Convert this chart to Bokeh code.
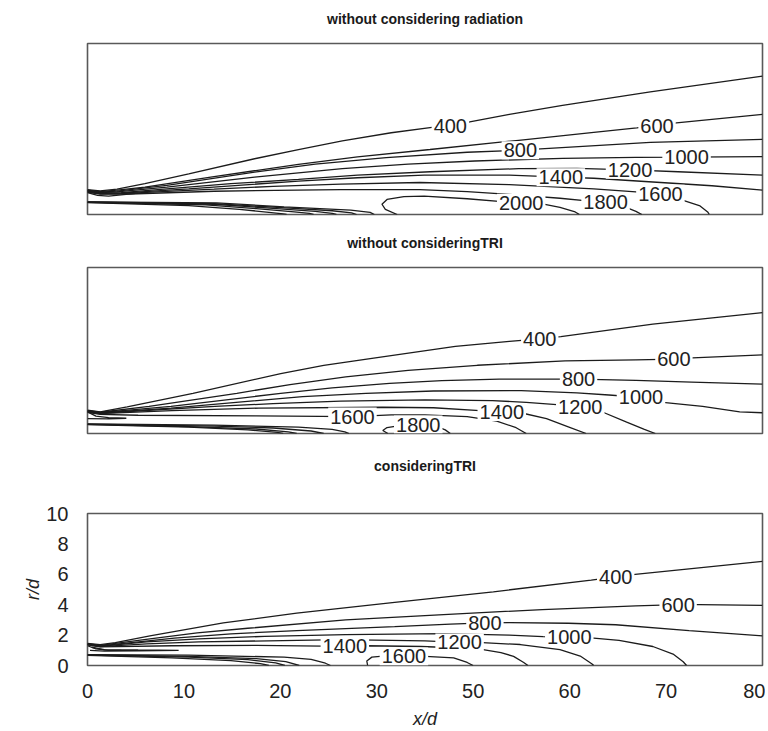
from bokeh.plotting import figure
from bokeh.layouts import column
from bokeh.models import Range1d, FixedTicker, Title
from bokeh.embed import file_html
from bokeh.resources import INLINE
from bokeh.core.properties import value

# ---------------- data (x/d, r/d) ----------------
X_TICK_LABELS = ["0", "10", "20", "30", "50", "60", "70", "80"]
Y_TICKS = [0, 2, 4, 6, 8, 10]

TITLES = ["without considering radiation", "without consideringTRI", "consideringTRI"]

# Panel 1: without considering radiation
RAD_400 = [(0, 1.45), (1.5, 1.38), (3.5, 1.48), (6.8, 1.8), (12, 2.38), (19.8, 3.26), (25, 3.8), (30.2, 4.3), (36, 4.78), (40.6, 5.08), (43, 5.22), (45.3, 5.42), (50, 5.85), (56.3, 6.38), (66.7, 7.17), (80, 8.09)]
RAD_600 = [(0, 1.43), (1.5, 1.34), (3.5, 1.42), (6.8, 1.6), (14.6, 2.19), (25, 2.93), (32, 3.37), (40.6, 3.8), (51.1, 4.34), (60, 4.8), (65.1, 5.06), (67.5, 5.2), (69.8, 5.36), (80, 5.86)]
RAD_800 = [(0, 1.41), (1.5, 1.31), (3.5, 1.37), (9.4, 1.7), (19.8, 2.48), (27, 2.95), (35.4, 3.33), (45, 3.64), (51.3, 3.76), (53.7, 3.84), (66.7, 4.22), (80, 4.39)]
RAD_1000 = [(0, 1.39), (1.5, 1.28), (3.5, 1.32), (9.4, 1.6), (19.8, 2.19), (30.2, 2.68), (38, 2.95), (45.9, 3.13), (56.3, 3.28), (65, 3.34), (71, 3.35), (80, 3.38)]
RAD_1200 = [(0, 1.37), (1.5, 1.25), (4, 1.28), (9.4, 1.5), (17, 1.8), (25, 2.05), (32, 2.3), (40.6, 2.5), (51.1, 2.68), (58, 2.7), (64.3, 2.61), (70, 2.5), (80, 2.3)]
RAD_1400 = [(0, 1.35), (1.5, 1.23), (4, 1.25), (12, 1.5), (25, 1.95), (32, 2.15), (39.9, 2.3), (50, 2.3), (56.1, 2.18), (60, 2.12), (67, 1.9), (74, 1.68), (80, 1.42)]
RAD_1600 = [(0, 1.33), (1.5, 1.21), (4, 1.22), (15, 1.48), (22, 1.65), (30, 1.78), (39.4, 1.87), (50, 1.75), (60, 1.5), (65, 1.32), (67.9, 1.21), (70.6, 0.82), (72.6, 0.5), (73.5, 0.15), (73.7, 0)]
RAD_1800 = [(0, 1.31), (1.5, 1.19), (5, 1.2), (15, 1.36), (30, 1.46), (39.4, 1.46), (45, 1.34), (50, 1.18), (56, 0.95), (59.2, 0.8), (61.4, 0.72), (63.9, 0.4), (65, 0.18), (65.7, 0)]
RAD_2000 = [(36.7, 0), (35.3, 0.3), (34.9, 0.6), (35.5, 0.88), (37.5, 1.05), (39.9, 1.08), (45, 0.92), (49.1, 0.75), (51.4, 0.68), (53.9, 0.62), (56, 0.42), (57.8, 0.15), (58.3, 0)]
RAD_CORE_1 = [(0, 0.7), (12, 0.52), (18, 0.3), (21.5, 0.13), (23.2, 0.04), (23.6, 0)]
RAD_CORE_2 = [(0, 0.71), (14, 0.56), (20, 0.34), (24.5, 0.15), (26.3, 0.06), (26.8, 0)]
RAD_CORE_3 = [(0, 0.72), (15, 0.6), (22, 0.36), (27, 0.18), (29, 0.07), (29.5, 0)]
RAD_CORE_4 = [(0, 0.73), (15, 0.64), (23, 0.4), (29, 0.22), (31.3, 0.1), (31.9, 0)]
RAD_CORE_5 = [(0, 0.74), (15.3, 0.68), (23.3, 0.45), (31.2, 0.26), (33.5, 0.12), (34, 0)]
RAD_LIP = [(0, 1.28), (1.2, 1.12), (2.5, 1.08), (4, 1.15), (6, 1.25)]
RAD_LABELS = ["400", "600", "800", "1000", "1200", "1400", "1600", "1800", "2000"]
RAD_LABEL_X = [43.0, 67.5, 51.3, 71.0, 64.3, 56.1, 67.9, 61.4, 51.4]
RAD_LABEL_R = [5.2, 5.2, 3.76, 3.35, 2.61, 2.18, 1.21, 0.72, 0.68]

# Panel 2: without considering TRI
NOTRI_400 = [(0, 1.4), (1.5, 1.3), (4.7, 1.6), (12.5, 2.42), (22.9, 3.61), (28, 4.1), (33.3, 4.5), (43.6, 5.25), (50, 5.55), (53.6, 5.7), (56.1, 5.83), (67, 6.59), (80, 7.28)]
NOTRI_600 = [(0, 1.38), (1.5, 1.28), (7.3, 1.63), (17.7, 2.42), (24, 2.95), (30.6, 3.41), (38, 3.8), (46.2, 4.11), (56.6, 4.37), (65, 4.44), (69.5, 4.48), (71.7, 4.56), (80, 4.74)]
NOTRI_800 = [(0, 1.36), (1.5, 1.26), (9.9, 1.63), (22.9, 2.42), (29, 2.75), (35.8, 3.02), (42, 3.18), (48.8, 3.27), (58.2, 3.28), (65, 3.2), (71.6, 3.1), (80, 2.98)]
NOTRI_1000 = [(0, 1.34), (1.5, 1.24), (9.9, 1.53), (25.5, 2.22), (33, 2.42), (41, 2.56), (51.4, 2.58), (58, 2.45), (61.8, 2.32), (65.6, 2.18), (68.2, 1.88), (72.9, 1.63), (77.3, 1.3), (80, 1.25)]
NOTRI_1200 = [(0, 1.32), (1.5, 1.22), (15.1, 1.63), (22, 1.8), (30, 1.95), (40, 2.02), (48, 1.98), (52, 1.88), (55.6, 1.74), (58.4, 1.58), (61.1, 1.28), (63.9, 0.68), (66, 0.25), (67.3, 0)]
NOTRI_1400 = [(0, 1.3), (1.5, 1.2), (10, 1.38), (20.3, 1.53), (35, 1.58), (41, 1.55), (46.5, 1.38), (49.1, 1.29), (51.6, 1.22), (54.4, 0.89), (56.9, 0.42), (59.1, 0)]
NOTRI_1600 = [(0, 1.27), (1.5, 1.15), (6, 1.1), (20, 1.06), (31.4, 1.02), (36, 1.12), (40, 1.12), (45, 1.02), (48.5, 0.75), (50.8, 0.35), (52, 0)]
NOTRI_1800 = [(35.6, 0), (35.0, 0.18), (35.5, 0.36), (37, 0.48), (39.2, 0.54), (41.3, 0.45), (42.4, 0.22), (43, 0)]
NOTRI_CORE_1 = [(0, 0.54), (12, 0.38), (19, 0.22), (22.5, 0.07), (23.2, 0)]
NOTRI_CORE_2 = [(0, 0.55), (12, 0.42), (20, 0.27), (23.8, 0.1), (24.8, 0)]
NOTRI_CORE_3 = [(0, 0.56), (15, 0.45), (22, 0.33), (26.5, 0.15), (28, 0)]
NOTRI_CORE_4 = [(0, 0.58), (15, 0.5), (25, 0.38), (29, 0.25), (30.5, 0.1), (31, 0)]
NOTRI_TONGUE = [(0, 1.3), (1, 1.05), (2.5, 0.95), (4.6, 0.92), (2.5, 0.88), (0, 0.9)]
NOTRI_LABELS = ["400", "600", "800", "1000", "1200", "1400", "1600", "1800"]
NOTRI_LABEL_X = [53.6, 69.5, 58.2, 65.6, 58.4, 49.1, 31.4, 39.2]
NOTRI_LABEL_R = [5.7, 4.48, 3.28, 2.18, 1.58, 1.29, 1.02, 0.54]

# Panel 3: considering TRI
TRI_400 = [(0, 1.45), (1.5, 1.38), (3.3, 1.5), (7.4, 1.95), (16.1, 2.8), (24.8, 3.45), (36.4, 4.15), (48.1, 4.85), (59.7, 5.62), (62.6, 5.83), (64.9, 6.0), (71.3, 6.36), (80, 6.85)]
TRI_600 = [(0, 1.43), (1.5, 1.32), (7.4, 1.75), (13, 2.14), (19, 2.45), (30.6, 3.0), (42.2, 3.35), (53.9, 3.68), (65, 3.92), (70, 4.0), (72.5, 4.0), (80, 3.95)]
TRI_800 = [(0, 1.41), (1.5, 1.29), (10.3, 1.8), (17, 2.08), (24.8, 2.3), (36.4, 2.56), (43, 2.72), (47.1, 2.8), (50, 2.82), (57, 2.78), (62.6, 2.68), (71.3, 2.3), (80, 1.95)]
TRI_1000 = [(0, 1.39), (1.5, 1.26), (7, 1.55), (13.2, 1.75), (21, 1.92), (30.6, 2.03), (42.2, 2.1), (50, 2.0), (54, 1.9), (57.1, 1.85), (60, 1.8), (63, 1.65), (67, 1.25), (69.4, 0.75), (70.6, 0.25), (71, 0)]
TRI_1200 = [(0, 1.37), (1.5, 1.24), (7, 1.42), (13.2, 1.55), (30, 1.7), (40, 1.62), (44.1, 1.52), (46.8, 1.5), (51.3, 1.38), (56, 1.05), (58.4, 0.62), (59.8, 0.1), (60, 0)]
TRI_1400 = [(0, 1.35), (1.5, 1.22), (10, 1.3), (20, 1.32), (30.5, 1.26), (33, 1.3), (39.5, 1.25), (46, 1.12), (49, 0.85), (50.5, 0.6), (51.7, 0.2), (52.2, 0)]
TRI_1600 = [(33.2, 0), (33.1, 0.3), (33.7, 0.55), (35, 0.62), (37.5, 0.6), (39.5, 0.62), (43.4, 0.5), (45, 0.2), (45.7, 0)]
TRI_CORE_1 = [(0, 0.66), (10, 0.5), (17, 0.32), (20.5, 0.12), (21.5, 0)]
TRI_CORE_2 = [(0, 0.68), (12, 0.55), (19, 0.38), (22.3, 0.17), (23.4, 0)]
TRI_CORE_3 = [(0, 0.7), (12, 0.6), (20, 0.45), (23.5, 0.25), (25.1, 0)]
TRI_CORE_4 = [(0, 0.72), (12, 0.68), (23.3, 0.55), (26.5, 0.4), (28.2, 0.15), (28.8, 0)]
TRI_TONGUE = [(0.5, 1.2), (2, 1.05), (6, 1.02), (10.8, 1.0), (6, 0.96), (2, 0.95), (0.3, 1.0)]
TRI_LIP = [(0, 1.3), (1, 1.1), (2.5, 1.0), (4, 1.0)]
TRI_LABELS = ["400", "600", "800", "1000", "1200", "1400", "1600"]
TRI_LABEL_X = [62.6, 70.0, 47.1, 57.1, 44.1, 30.5, 37.5]
TRI_LABEL_R = [5.83, 4.0, 2.8, 1.85, 1.52, 1.26, 0.6]

PANEL_LINES = [
    [RAD_400, RAD_600, RAD_800, RAD_1000, RAD_1200, RAD_1400, RAD_1600, RAD_1800, RAD_2000,
     RAD_CORE_1, RAD_CORE_2, RAD_CORE_3, RAD_CORE_4, RAD_CORE_5, RAD_LIP],
    [NOTRI_400, NOTRI_600, NOTRI_800, NOTRI_1000, NOTRI_1200, NOTRI_1400, NOTRI_1600, NOTRI_1800,
     NOTRI_CORE_1, NOTRI_CORE_2, NOTRI_CORE_3, NOTRI_CORE_4, NOTRI_TONGUE],
    [TRI_400, TRI_600, TRI_800, TRI_1000, TRI_1200, TRI_1400, TRI_1600,
     TRI_CORE_1, TRI_CORE_2, TRI_CORE_3, TRI_CORE_4, TRI_TONGUE, TRI_LIP],
]
PANEL_LABELS = [
    (RAD_LABELS, RAD_LABEL_X, RAD_LABEL_R),
    (NOTRI_LABELS, NOTRI_LABEL_X, NOTRI_LABEL_R),
    (TRI_LABELS, TRI_LABEL_X, TRI_LABEL_R),
]

# ---------------- layout ----------------
W = 765
FONT = "Liberation Sans"
HEIGHTS = [222, 219, 290]
TOPS = [43, 45, 72]
BOTTOMS = [8, 8, 65]
SPACER = [14, 14, 37]   # empty space between title and frame


def make_panel(i):
    last = i == 2
    kw = dict(width=W, height=HEIGHTS[i], output_backend="svg", toolbar_location=None,
              x_range=Range1d(0, 80), y_range=Range1d(0, 10),
              min_border_left=87, min_border_right=3,
              min_border_top=TOPS[i], min_border_bottom=BOTTOMS[i], title=None)
    if not last:
        kw.update(x_axis_type=None, y_axis_type=None)
    p = figure(**kw)
    p.outline_line_color = "#595959"
    p.outline_line_width = 1.6
    p.background_fill_color = "white"
    p.border_fill_color = "white"

    # spacer (first panel above the frame), then the title itself
    p.add_layout(Title(text=" ", text_font_size="1px", standoff=SPACER[i]), "above")
    p.add_layout(Title(text=TITLES[i], align="center", text_font=FONT,
                       text_font_size="14px", text_font_style="bold",
                       text_color="#1a1a1a", standoff=0), "above")

    lines = PANEL_LINES[i]
    xs = [[pt[0] for pt in c] for c in lines]
    ys = [[pt[1] for pt in c] for c in lines]
    p.multi_line(xs, ys, line_color="#1c1c1c", line_width=1.3)

    labs, lx, ly = PANEL_LABELS[i]
    p.text(x=lx, y=ly, text=labs, text_align="center", text_baseline="middle",
           text_font=value(FONT), text_font_size="20px", text_color="#222222",
           background_fill_color="white", padding=2)

    if last:
        n = len(X_TICK_LABELS)
        pos = [k * 80 / (n - 1) for k in range(n)]
        p.xaxis.ticker = FixedTicker(ticks=pos)
        p.xaxis.major_label_overrides = {pp: lab for pp, lab in zip(pos, X_TICK_LABELS)}
        p.yaxis.ticker = FixedTicker(ticks=Y_TICKS)
        for ax in (p.xaxis, p.yaxis):
            ax.major_tick_line_color = None
            ax.minor_tick_line_color = None
            ax.axis_line_color = None
            ax.major_label_text_font = FONT
            ax.major_label_text_font_size = "20px"
            ax.major_label_text_color = "#222222"
            ax.axis_label_text_font = FONT
            ax.axis_label_text_font_size = "18px"
            ax.axis_label_text_font_style = "italic"
            ax.axis_label_text_color = "#222222"
        p.xaxis.major_label_standoff = 12
        p.yaxis.major_label_standoff = 13
        p.xaxis.axis_label = "x/d"
        p.yaxis.axis_label = "r/d"
        p.xaxis.axis_label_standoff = 8
        p.yaxis.axis_label_standoff = 0
        p.grid.visible = False
    return p


panels = [make_panel(i) for i in range(3)]
layout = column(*panels, spacing=0)
open("out.html", "w").write(file_html(layout, INLINE))
